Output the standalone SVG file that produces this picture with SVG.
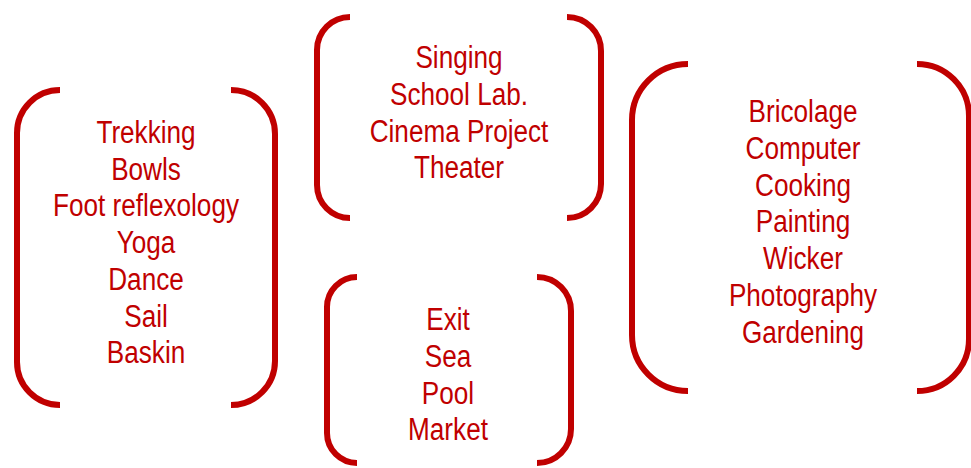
<svg xmlns="http://www.w3.org/2000/svg" width="971" height="468" viewBox="0 0 971 468">
<style>
.br{fill:none;stroke:#C00000;stroke-width:6}
.t{font-family:"Liberation Sans",Arial,sans-serif;font-size:31.5px;fill:#C00000;text-anchor:middle}
</style>
<rect width="971" height="468" fill="#fff"/>
<g id="connectors"></g>
<g id="group-left">
<path class="br" d="M60,90 A43,43 0 0 0 17,133 V362 A43,43 0 0 0 60,405"/>
<path class="br" d="M231,90 A44,44 0 0 1 275,134 V361 A44,44 0 0 1 231,405"/>
<g transform="translate(146,0) scale(0.83,1)">
<text class="t" x="0" y="143">Trekking</text>
<text class="t" x="0" y="180">Bowls</text>
<text class="t" x="0" y="216">Foot reflexology</text>
<text class="t" x="0" y="253">Yoga</text>
<text class="t" x="0" y="290">Dance</text>
<text class="t" x="0" y="327">Sail</text>
<text class="t" x="0" y="363">Baskin</text>
</g>
</g>
<g id="group-top">
<path class="br" d="M350,17 A33,33 0 0 0 317,50 V185 A33,33 0 0 0 350,218"/>
<path class="br" d="M567,17 A34,34 0 0 1 601,51 V184 A34,34 0 0 1 567,218"/>
<g transform="translate(459,0) scale(0.83,1)">
<text class="t" x="0" y="68">Singing</text>
<text class="t" x="0" y="105">School Lab.</text>
<text class="t" x="0" y="142">Cinema Project</text>
<text class="t" x="0" y="178">Theater</text>
</g>
</g>
<g id="group-bottom">
<path class="br" d="M357,277 A30,30 0 0 0 327,307 V433 A30,30 0 0 0 357,463"/>
<path class="br" d="M537,277 A34,34 0 0 1 571,311 V429 A34,34 0 0 1 537,463"/>
<g transform="translate(448,0) scale(0.83,1)">
<text class="t" x="0" y="330">Exit</text>
<text class="t" x="0" y="367">Sea</text>
<text class="t" x="0" y="404">Pool</text>
<text class="t" x="0" y="440">Market</text>
</g>
</g>
<g id="group-right">
<path class="br" d="M688,64 A56,56 0 0 0 632,120 V335 A56,56 0 0 0 688,391"/>
<path class="br" d="M917,64 A52,52 0 0 1 969,116 V339 A52,52 0 0 1 917,391"/>
<g transform="translate(803,0) scale(0.83,1)">
<text class="t" x="0" y="122">Bricolage</text>
<text class="t" x="0" y="159">Computer</text>
<text class="t" x="0" y="196">Cooking</text>
<text class="t" x="0" y="232">Painting</text>
<text class="t" x="0" y="269">Wicker</text>
<text class="t" x="0" y="306">Photography</text>
<text class="t" x="0" y="343">Gardening</text>
</g>
</g>
</svg>
